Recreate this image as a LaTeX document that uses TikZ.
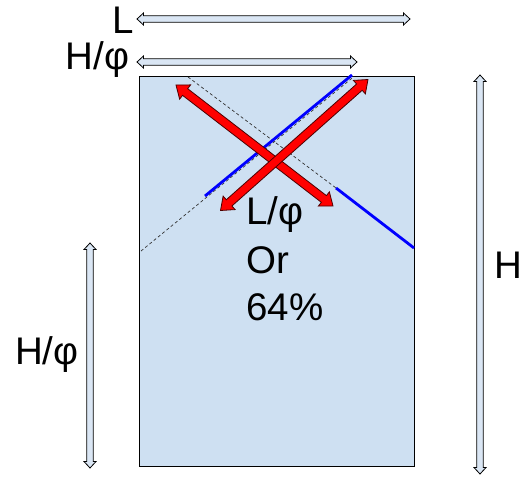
\documentclass[tikz,border=0pt]{standalone}
\usepackage{fontspec}
\setmainfont{Liberation Sans}
\definecolor{boxfill}{RGB}{206,224,242}
\definecolor{arrfill}{RGB}{218,230,244}
\definecolor{lineblue}{RGB}{0,0,255}
\definecolor{arrred}{RGB}{255,0,0}
\newcommand{\dblarrow}[8]{%
  \pgfmathsetmacro\myang{atan2(-(#5-#3),#4-#2)}%
  \pgfmathsetmacro\mylen{veclen(#4-#2,#5-#3)}%
  \begin{scope}[shift={(#2,#3)},rotate=\myang]
    \draw[#1] (0,0) -- (#8,#7) -- (#8,#6) -- ({\mylen-#8},#6) -- ({\mylen-#8},#7) -- (\mylen,0)
      -- ({\mylen-#8},-#7) -- ({\mylen-#8},-#6) -- (#8,-#6) -- (#8,-#7) -- cycle;
  \end{scope}}
\tikzset{
  dimarrow/.style={draw=black, line width=0.8pt, fill=arrfill, line join=miter},
  redarrow/.style={draw=black!70!red, line width=0.8pt, fill=arrred, line join=miter},
  guide/.style={draw=black!80, line width=0.7pt, dash pattern=on 3pt off 2.5pt},
  blueline/.style={draw=lineblue, line width=2.8pt},
  lbl/.style={inner sep=0pt, anchor=base west, font=\fontsize{38.5}{46}\selectfont}
}
\begin{document}
\begin{tikzpicture}[x=1pt,y=-1pt]
\useasboundingbox (0,0) rectangle (529,476);
% main rectangle
\draw[fill=boxfill, line width=0.9pt] (139.5,76) rectangle (414.5,466.5);
% guide lines
\draw[guide] (141,251) -- (354,76.5);
\draw[guide] (188,77) -- (336,188);
% blue segments
\draw[blueline] (205,196) -- (352,75);
\draw[blueline] (336,188) -- (414,248);
% red arrows
\dblarrow{redarrow}{176}{85}{333}{206}{4.2}{9}{11.5}
\dblarrow{redarrow}{220.5}{210.5}{368}{79.5}{4.2}{9}{11.5}
% dimension arrows
\dblarrow{dimarrow}{137}{19}{410}{19}{3.2}{6}{6.5}
\dblarrow{dimarrow}{137}{62}{357}{62}{3.2}{6}{6.5}
\dblarrow{dimarrow}{480}{75}{480}{474}{3.2}{6}{6.5}
\dblarrow{dimarrow}{90}{243}{90}{468}{3.2}{6}{6.5}
% labels
\node[lbl] (lL) at (112,34) {L};
\node[lbl] (lHphiTop) at (65.5,70) {H/φ};
\node[lbl] (lHphiLeft) at (15,364) {H/φ};
\node[lbl] (lH) at (494,278) {H};
\node[lbl] (lLphi) at (246,224) {L/φ};
\node[lbl] (lOr) at (246,273) {Or};
\node[lbl] (lPct) at (246,320) {64\%};
\end{tikzpicture}
\end{document}
